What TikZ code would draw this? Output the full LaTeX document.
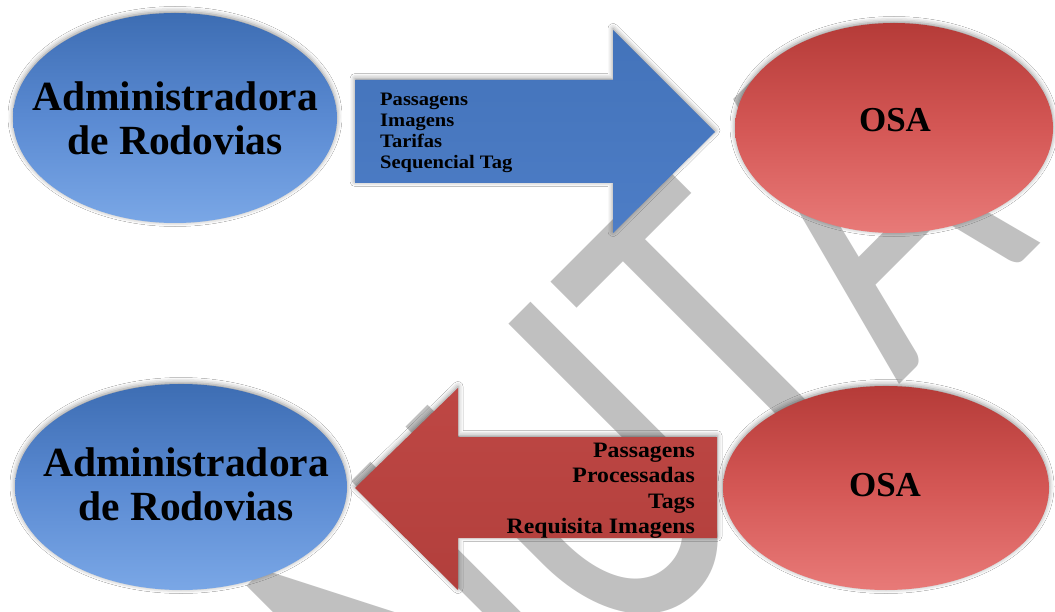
\documentclass[tikz,border=0pt]{standalone}
\usepackage{fontspec}
\setmainfont{Liberation Serif}
\newfontfamily\wmfont{Carlito}
\newfontfamily\lblfont[FakeStretch=1.08]{Liberation Serif}
\usetikzlibrary{shapes.geometric,shadows.blur}
\definecolor{bTop}{HTML}{3D6DB3}
\definecolor{bMid}{HTML}{5A8AD2}
\definecolor{bBot}{HTML}{7AA7E6}
\definecolor{rTop}{HTML}{B53B38}
\definecolor{rMid}{HTML}{D45755}
\definecolor{rBot}{HTML}{E87A78}
\definecolor{baTop}{HTML}{4373BA}
\definecolor{baMid}{HTML}{6E9EE3}
\definecolor{baBot}{HTML}{4D7DC6}
\definecolor{raTop}{HTML}{BE4744}
\definecolor{raMid}{HTML}{E26C69}
\definecolor{raBot}{HTML}{B23F3C}
\definecolor{wmgray}{HTML}{C0C0C0}
\begin{document}
\begin{tikzpicture}[x=1pt,y=-1pt,
  softshadow/.style={blur shadow={shadow xshift=0pt,shadow yshift=1.5pt,shadow blur radius=5pt,shadow opacity=45}},
  ell/.style={ellipse, inner sep=0pt, softshadow},
  blueell/.style={ell, top color=bTop, bottom color=bBot, middle color=bMid},
  redell/.style={ell, top color=rTop, bottom color=rBot, middle color=rMid},
  admtxt/.style={inner sep=0pt, align=center, font=\bfseries\fontsize{41.5}{44}\selectfont},
  osatxt/.style={inner sep=0pt, font=\bfseries\fontsize{35}{38}\selectfont},
  bluearrow/.style={top color=baTop, middle color=baMid, bottom color=baBot, softshadow},
  redarrow/.style={top color=raTop, middle color=raMid, bottom color=raBot, softshadow},
  toptxt/.style={inner sep=0pt, align=left, font=\lblfont\bfseries\fontsize{19}{21}\selectfont},
  bottxt/.style={inner sep=0pt, align=right, font=\lblfont\bfseries\fontsize{22}{25.3}\selectfont},
  wm/.style={rotate=45, yscale=1.42, transform shape, anchor=base west, inner sep=0pt,
    text=wmgray, font=\wmfont\fontsize{350}{350}\selectfont}]
\useasboundingbox (0,0) rectangle (1055,612);
\fill[white] (0,0) rectangle (1055,612);
\begin{scope}
  \clip (0,0) rectangle (1055,612);
  \node[wm] (wmark) at (180.6,1103.4) {MINUT\kern6pt A};
\end{scope}
% top row
\node[blueell, minimum width=324pt, minimum height=210pt] (adm1) at (175,118) {};
\node[admtxt] (adm1t) at (adm1.center) {Administradora\\de Rodovias};
\node[redell, minimum width=318pt, minimum height=210pt] (osa1) at (894,128) {};
\node[osatxt] (osa1t) at (895,120) {OSA};
\path[bluearrow] (355,80) -- (613,80) -- (613,30) -- (715,132) -- (613,233) -- (613,183) -- (355,183) -- cycle;
\node[toptxt, anchor=north west] (t1) at (380,93) {Passagens\\Imagens\\Tarifas\\Sequencial Tag};
% bottom row
\node[blueell, minimum width=332pt, minimum height=206pt] (adm2) at (181,487) {};
\node[admtxt] (adm2t) at (186,484) {Administradora\\de Rodovias};
\node[redell, minimum width=326pt, minimum height=204pt] (osa2) at (886,488) {};
\node[osatxt] (osa2t) at (885,485) {OSA};
\path[redarrow] (717,437) -- (458,437) -- (458,388) -- (355,488) -- (458,590) -- (458,538) -- (717,538) -- cycle;
\node[bottxt, anchor=north east] (t2) at (695,443) {Passagens\\Processadas\\Tags\\Requisita Imagens};
\end{tikzpicture}
\end{document}
